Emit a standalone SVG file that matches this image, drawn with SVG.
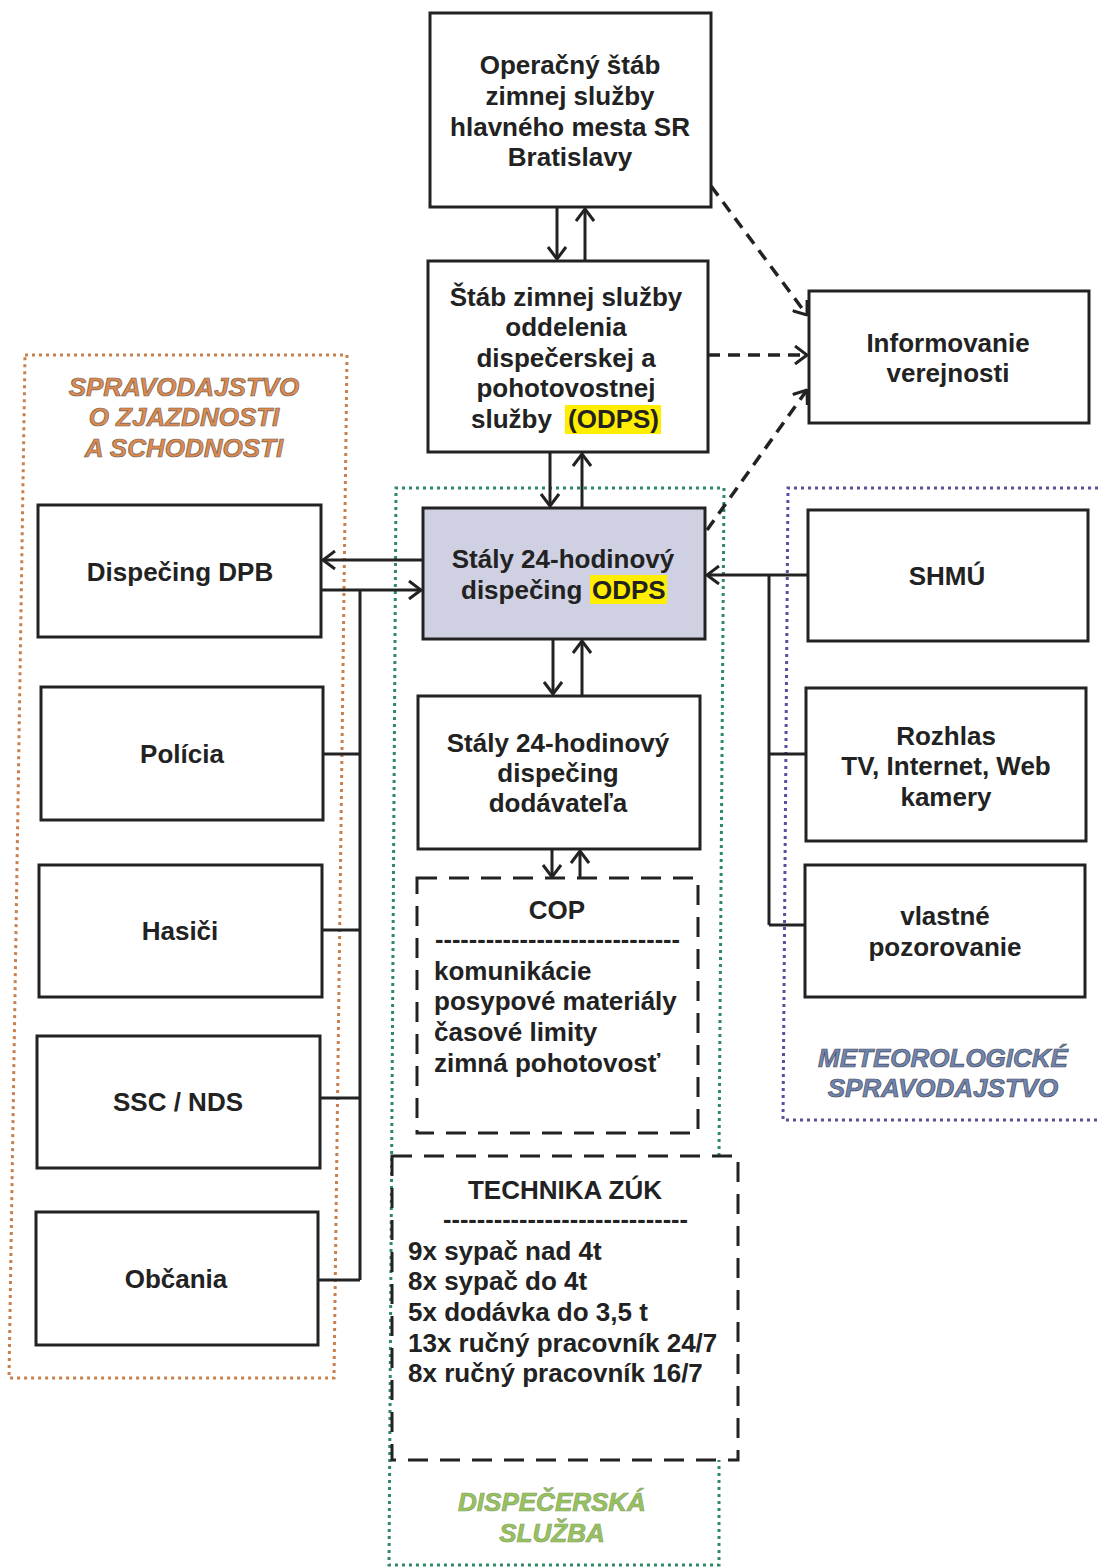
<svg xmlns="http://www.w3.org/2000/svg" width="1098" height="1567" viewBox="0 0 1098 1567">
<style>
.box{fill:#fff;stroke:#222;stroke-width:3}
.t{font-family:"Liberation Sans",Arial,sans-serif;font-weight:bold;font-size:26px;fill:#222}
.c{text-anchor:middle}
.ln{stroke:#222;stroke-width:3;fill:none}
.dash{stroke:#222;stroke-width:3.5;fill:none;stroke-dasharray:12 8}
.dbox{fill:none;stroke:#222;stroke-width:3;stroke-dasharray:20 12}
.ttl{font-family:"Liberation Sans",Arial,sans-serif;font-weight:bold;font-style:italic;font-size:26px;text-anchor:middle;stroke-width:0.7}
</style>
<defs>
<marker id="ah" viewBox="0 0 14 20" refX="13" refY="10" markerWidth="14" markerHeight="20" markerUnits="userSpaceOnUse" orient="auto">
<path d="M1,1 L13,10 L1,19" fill="none" stroke="#222" stroke-width="3"/>
</marker>
</defs>
<rect width="1098" height="1567" fill="#fff"/>

<g id="containers">
<path d="M25,355 L347,355 L334,1378 L9,1378 Z" fill="none" stroke="#c8804e" stroke-width="3" stroke-dasharray="3 4"/>
<path d="M719,1156 L724,488 L396,488 L389,1565 L719,1565 L719,1460" fill="none" stroke="#2e8a62" stroke-width="3" stroke-dasharray="3 4"/>
<path d="M1098,488 L788,488 L783,1120 L1098,1120" fill="none" stroke="#5a4f9e" stroke-width="3" stroke-dasharray="3 4"/>
<text class="ttl" fill="#e08a4c" stroke="#6e625a" x="184" y="396">SPRAVODAJSTVO</text>
<text class="ttl" fill="#e08a4c" stroke="#6e625a" x="184" y="426">O ZJAZDNOSTI</text>
<text class="ttl" fill="#e08a4c" stroke="#6e625a" x="184" y="457">A SCHODNOSTI</text>
<text class="ttl" fill="#6f86b0" stroke="#4a4a5a" x="943" y="1067">METEOROLOGICKÉ</text>
<text class="ttl" fill="#6f86b0" stroke="#4a4a5a" x="943" y="1097">SPRAVODAJSTVO</text>
<text class="ttl" fill="#96c45a" stroke="#8aa070" x="552" y="1511">DISPEČERSKÁ</text>
<text class="ttl" fill="#96c45a" stroke="#8aa070" x="552" y="1542">SLUŽBA</text>
</g>

<g id="connectors">
<line class="ln" x1="557" y1="207" x2="557" y2="259" marker-end="url(#ah)"/>
<line class="ln" x1="585" y1="261" x2="585" y2="209" marker-end="url(#ah)"/>
<line class="ln" x1="550" y1="452" x2="550" y2="506" marker-end="url(#ah)"/>
<line class="ln" x1="582" y1="508" x2="582" y2="454" marker-end="url(#ah)"/>
<line class="ln" x1="553" y1="639" x2="553" y2="694" marker-end="url(#ah)"/>
<line class="ln" x1="582" y1="696" x2="582" y2="641" marker-end="url(#ah)"/>
<line class="ln" x1="552" y1="849" x2="552" y2="877" marker-end="url(#ah)"/>
<line class="ln" x1="580" y1="878" x2="580" y2="851" marker-end="url(#ah)"/>
<line class="ln" x1="423" y1="560" x2="323" y2="560" marker-end="url(#ah)"/>
<line class="ln" x1="321" y1="590" x2="421" y2="590" marker-end="url(#ah)"/>
<path class="ln" d="M360,590 L360,1280 M323,754 L360,754 M322,930 L360,930 M320,1098 L360,1098 M318,1280 L360,1280"/>
<line class="ln" x1="808" y1="575" x2="707" y2="575" marker-end="url(#ah)"/>
<path class="ln" d="M769,575 L769,925 M769,754 L806,754 M769,925 L805,925"/>
<line class="dash" x1="711" y1="186" x2="807" y2="315" marker-end="url(#ah)"/>
<line class="dash" x1="708" y1="355" x2="807" y2="355" marker-end="url(#ah)"/>
<line class="dash" x1="707" y1="530" x2="807" y2="390" marker-end="url(#ah)"/>
</g>

<g id="n-operacny">
<rect class="box" x="430" y="13" width="281" height="194"/>
<text class="t c" x="570" y="74">Operačný štáb</text>
<text class="t c" x="570" y="105">zimnej služby</text>
<text class="t c" x="570" y="136">hlavného mesta SR</text>
<text class="t c" x="570" y="166">Bratislavy</text>
</g>

<g id="n-stab-odps">
<rect class="box" x="428" y="261" width="280" height="191"/>
<text class="t c" x="566" y="306">Štáb zimnej služby</text>
<text class="t c" x="566" y="336">oddelenia</text>
<text class="t c" x="566" y="367">dispečerskej a</text>
<text class="t c" x="566" y="397">pohotovostnej</text>
<rect x="565" y="405" width="96" height="29" fill="#ffee00"/>
<text class="t" x="471" y="428">služby</text>
<text class="t" x="568" y="428">(ODPS)</text>
</g>

<g id="n-dispecing-odps">
<rect x="423" y="508" width="282" height="131" fill="#cfd1e2" stroke="#222" stroke-width="3"/>
<rect x="590" y="575" width="77" height="29" fill="#ffee00"/>
<text class="t c" x="563" y="568">Stály 24-hodinový</text>
<text class="t" x="461" y="599">dispečing</text>
<text class="t" x="592" y="599">ODPS</text>
</g>

<g id="n-dodavatel">
<rect class="box" x="418" y="696" width="282" height="153"/>
<text class="t c" x="558" y="752">Stály 24-hodinový</text>
<text class="t c" x="558" y="782">dispečing</text>
<text class="t c" x="558" y="812">dodávateľa</text>
</g>

<g id="n-cop">
<rect class="dbox" x="417" y="878" width="281" height="255"/>
<text class="t c" x="557" y="919">COP</text>
<text class="t" x="435" y="948" textLength="245" lengthAdjust="spacingAndGlyphs">-----------------------------</text>
<text class="t" x="434" y="980">komunikácie</text>
<text class="t" x="434" y="1010">posypové materiály</text>
<text class="t" x="434" y="1041">časové limity</text>
<text class="t" x="434" y="1072">zimná pohotovosť</text>
</g>

<g id="n-technika">
<rect class="dbox" x="392" y="1156" width="346" height="304"/>
<text class="t c" x="565" y="1199">TECHNIKA ZÚK</text>
<text class="t" x="443" y="1228" textLength="245" lengthAdjust="spacingAndGlyphs">-----------------------------</text>
<text class="t" x="408" y="1260">9x sypač nad 4t</text>
<text class="t" x="408" y="1290">8x sypač do 4t</text>
<text class="t" x="408" y="1321">5x dodávka do 3,5 t</text>
<text class="t" x="408" y="1352">13x ručný pracovník 24/7</text>
<text class="t" x="408" y="1382">8x ručný pracovník 16/7</text>
</g>

<g id="n-dpb">
<rect class="box" x="38" y="505" width="283" height="132"/>
<text class="t c" x="180" y="581">Dispečing DPB</text>
</g>
<g id="n-policia">
<rect class="box" x="41" y="687" width="282" height="133"/>
<text class="t c" x="182" y="763">Polícia</text>
</g>
<g id="n-hasici">
<rect class="box" x="39" y="865" width="283" height="132"/>
<text class="t c" x="180" y="940">Hasiči</text>
</g>
<g id="n-ssc">
<rect class="box" x="37" y="1036" width="283" height="132"/>
<text class="t c" x="178" y="1111">SSC / NDS</text>
</g>
<g id="n-obcania">
<rect class="box" x="36" y="1212" width="282" height="133"/>
<text class="t c" x="176" y="1288">Občania</text>
</g>

<g id="n-informovanie">
<rect class="box" x="809" y="291" width="280" height="132"/>
<text class="t c" x="948" y="352">Informovanie</text>
<text class="t c" x="948" y="382">verejnosti</text>
</g>
<g id="n-shmu">
<rect class="box" x="808" y="510" width="280" height="131"/>
<text class="t c" x="947" y="585">SHMÚ</text>
</g>
<g id="n-rozhlas">
<rect class="box" x="806" y="688" width="280" height="153"/>
<text class="t c" x="946" y="745">Rozhlas</text>
<text class="t c" x="946" y="775">TV, Internet, Web</text>
<text class="t c" x="946" y="806">kamery</text>
</g>
<g id="n-vlastne">
<rect class="box" x="805" y="865" width="280" height="132"/>
<text class="t c" x="945" y="925">vlastné</text>
<text class="t c" x="945" y="956">pozorovanie</text>
</g>
</svg>
